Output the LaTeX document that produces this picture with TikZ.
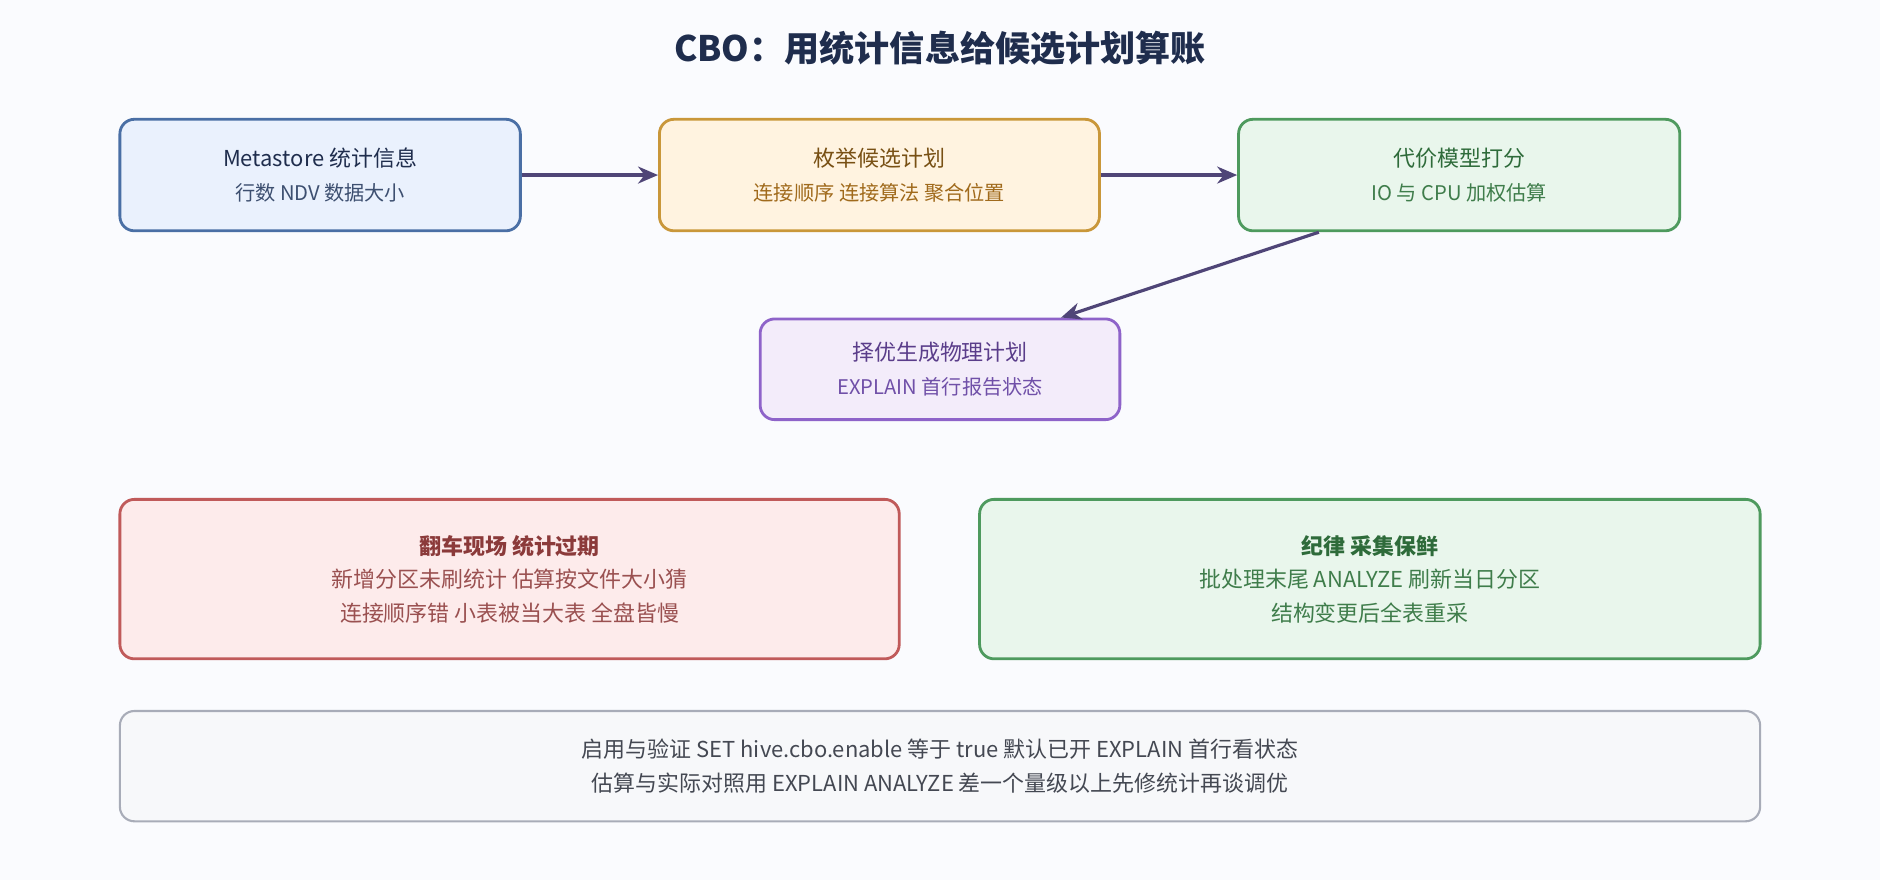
\documentclass[tikz,border=0pt]{standalone}
\usepackage{fontspec}
\setmainfont{Noto Sans CJK SC}
\usetikzlibrary{positioning, arrows.meta}
\definecolor{bgc}{HTML}{FAFBFE}
\definecolor{arrowc}{HTML}{4F4577}
\tikzset{
box/.style = {rectangle, rounded corners = 0.29cm, line width = 1.6pt, align = center,
   inner sep = 0pt, font = \fontsize{12.5}{19}\selectfont},
flow/.style = {-{Stealth[length = 4mm, width = 3.4mm]}, line width = 1.8pt, arrowc}
}
\begin{document}
\begin{tikzpicture}[x = 0.024cm, y = -0.024cm]
\fill [bgc] (0,0) rectangle (1568,734);

%% Title
\node (title) at (784,40) {\fontsize{20}{24}\selectfont\bfseries\color[HTML]{1F2D4D}CBO：用统计信息给候选计划算账};

%% Pipeline
\node [box, draw = {rgb,255:red,74;green,111;blue,165}, fill = {rgb,255:red,234;green,241;blue,253},
   minimum width = 334*0.024cm, minimum height = 93*0.024cm, text = {rgb,255:red,31;green,45;blue,77}]
   (meta) at (267,146) {Metastore 统计信息\\\fontsize{11.5}{17}\selectfont\textcolor[HTML]{3D4F70}{行数 NDV 数据大小}};
\node [box, draw = {rgb,255:red,201;green,151;blue,58}, fill = {rgb,255:red,255;green,243;blue,224},
   minimum width = 367*0.024cm, minimum height = 93*0.024cm, text = {rgb,255:red,120;green,80;blue,20}]
   (enum) at (733.5,146) {枚举候选计划\\\fontsize{11.5}{17}\selectfont\textcolor[HTML]{A06A1C}{连接顺序 连接算法 聚合位置}};
\node [box, draw = {rgb,255:red,78;green,154;blue,94}, fill = {rgb,255:red,233;green,246;blue,236},
   minimum width = 368*0.024cm, minimum height = 93*0.024cm, text = {rgb,255:red,46;green,107;blue,58}]
   (cost) at (1217,146) {代价模型打分\\\fontsize{11.5}{17}\selectfont\textcolor[HTML]{3F7D4B}{IO 与 CPU 加权估算}};
\node [box, draw = {rgb,255:red,142;green,99;blue,201}, fill = {rgb,255:red,243;green,236;blue,250},
   minimum width = 300*0.024cm, minimum height = 84*0.024cm, text = {rgb,255:red,90;green,61;blue,138}]
   (pick) at (784,308) {择优生成物理计划\\\fontsize{11.5}{17}\selectfont\textcolor[HTML]{7050A8}{EXPLAIN 首行报告状态}};

\draw [flow] (meta) -- (enum);
\draw [flow] (enum) -- (cost);
\draw [flow] (cost.south -| 1100,0) -- (pick.north -| 885,0);

%% Failure and discipline
\node [box, draw = {rgb,255:red,192;green,90;blue,90}, fill = {rgb,255:red,253;green,235;blue,235},
   minimum width = 650*0.024cm, minimum height = 133*0.024cm, text = {rgb,255:red,139;green,58;blue,58}]
   (fail) at (425,483) {\textbf{翻车现场 统计过期}\\\textcolor[HTML]{9A5050}{新增分区未刷统计 估算按文件大小猜}\\\textcolor[HTML]{9A5050}{连接顺序错 小表被当大表 全盘皆慢}};
\node [box, draw = {rgb,255:red,78;green,154;blue,94}, fill = {rgb,255:red,233;green,246;blue,236},
   minimum width = 651*0.024cm, minimum height = 133*0.024cm, text = {rgb,255:red,46;green,107;blue,58}]
   (rule) at (1142.5,483) {\textbf{纪律 采集保鲜}\\\textcolor[HTML]{3F7D4B}{批处理末尾 ANALYZE 刷新当日分区}\\\textcolor[HTML]{3F7D4B}{结构变更后全表重采}};

%% Notes
\node [box, line width = 1.2pt, draw = {rgb,255:red,168;green,172;blue,184}, fill = {rgb,255:red,247;green,248;blue,250},
   minimum width = 1368*0.024cm, minimum height = 92*0.024cm, text = {rgb,255:red,68;green,72;blue,82}]
   (note) at (784,639) {启用与验证 SET hive.cbo.enable 等于 true 默认已开 EXPLAIN 首行看状态\\估算与实际对照用 EXPLAIN ANALYZE 差一个量级以上先修统计再谈调优};
\end{tikzpicture}
\end{document}
